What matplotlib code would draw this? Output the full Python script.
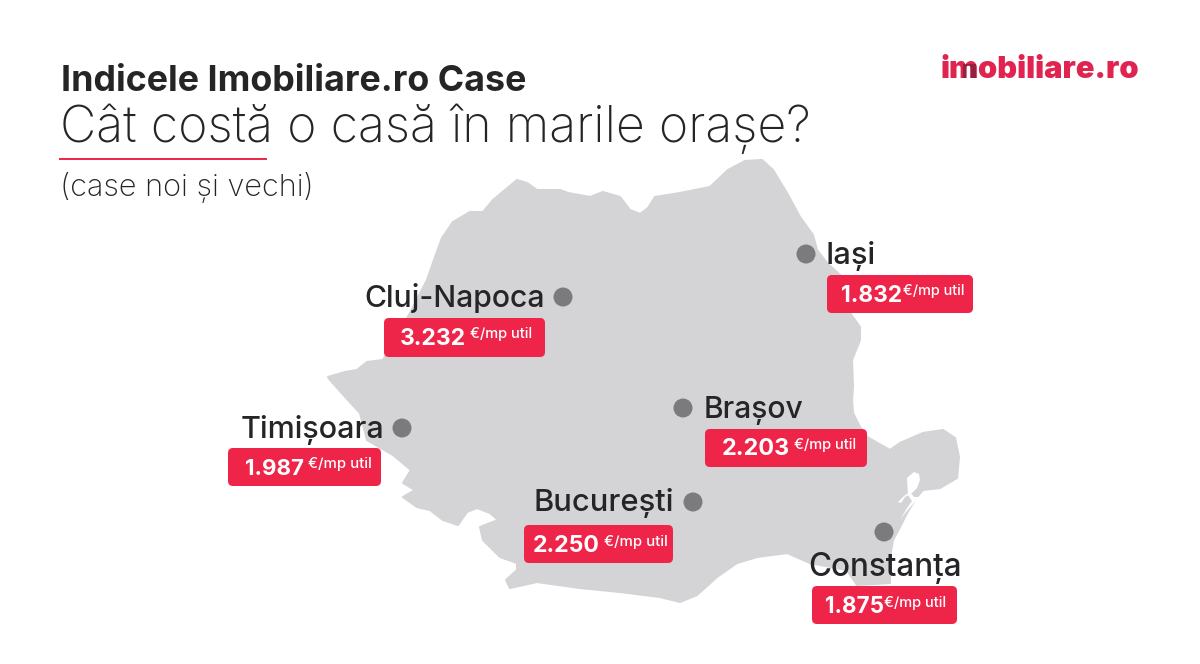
import matplotlib
matplotlib.use("Agg")
import matplotlib.pyplot as plt
from matplotlib.patches import Polygon, FancyBboxPatch, Circle
from matplotlib.textpath import TextPath
from matplotlib.font_manager import FontProperties
from matplotlib.transforms import Bbox

# ---- data ----
cities = ["Cluj-Napoca", "Iași", "Timișoara", "Brașov", "București", "Constanța"]
prices = [3232, 1832, 1987, 2203, 2250, 1875]
unit = "€/mp util"
title = "Indicele Imobiliare.ro Case"
subtitle = "Cât costă o casă în marile orașe?"
note = "(case noi și vechi)"
logo = "imobiliare.ro"

map_x = [328,345,357,367,383,395,410,427,435,442,453,470,483,493,517,527,537,560,568,590,603,620,630,640,
         648,655,680,710,728,745,762,773,787,800,813,817,827,840,850,860,860,852,853,852,853,860,867,890,900,923,
         943,955,959,957,940,923,917,907,900,893,890,890,857,847,810,787,757,737,717,697,680,660,620,580,537,
         510,506,517,517,500,483,480,498,490,477,467,458,443,430,417,403,415,403,411,393,367,360,348,330]
map_y = [377,372,370,362,360,340,313,280,257,238,222,212,212,200,180,183,190,190,193,197,192,197,210,214,
         208,197,193,187,170,161,160,170,193,217,235,250,263,275,313,327,340,360,387,400,413,427,437,450,443,433,
         430,438,457,478,488,490,497,513,527,540,557,583,585,570,563,553,557,563,577,595,602,597,592,588,582,
         588,580,570,563,557,540,527,520,513,508,512,525,520,510,507,497,490,483,470,455,440,413,400,380]
delta_x = [907,914,919,920,917,912,905,901,898,904,910,914,921,914,906,900,907,912,908]
delta_y = [478,472,474,480,488,493,497,503,502,496,492,497,497,503,512,520,508,501,495]

# ---- layout (pixels) ----
W, H = 1200, 664
fig = plt.figure(figsize=(12, 6.64), dpi=100, facecolor="white")
ax = fig.add_axes([0, 0, 1, 1])
ax.set_xlim(0, W); ax.set_ylim(H, 0); ax.axis("off")

FONT = "Inter"
RED = "#ee2449"; GREY = "#d4d3d5"; DOT = "#7b7a7c"; INK = "#252527"

def put(s, x0, x1, base, weight, color, zorder=5):
    """Place text whose ink spans x0..x1 px, on the given baseline."""
    fp = FontProperties(family=FONT, weight=weight)
    ext = TextPath((0, 0), s, size=100, prop=fp).get_extents()
    size_px = 100 * (x1 - x0) / ext.width
    bearing = ext.x0 * size_px / 100
    return ax.text(x0 - bearing * 0.5, base, s, fontproperties=fp, fontsize=size_px * 0.72,
                   color=color, va="baseline", ha="left", zorder=zorder)

ax.add_patch(Polygon(list(zip(map_x, map_y)), closed=True, fc=GREY, ec=GREY, lw=1.5,
                     joinstyle="round", zorder=1))
ax.add_patch(Polygon(list(zip(delta_x, delta_y)), closed=True, fc="white", ec="none", zorder=2))

put(title, 62, 524, 91, "bold", INK)
put(subtitle, 62, 807, 142, "light", INK)
ax.plot([60, 266], [159, 159], color=RED, lw=1.4, zorder=3)
put(note, 62, 309, 196, "light", INK)

dots = [(563,297),(806,254),(402,428),(683,408),(693,502),(884,532)]
name_pos = [(365,542,307),(827,873,264),(241,381,438),(705,802,418),(535,671,511),(809,959,576)]
boxes = [(384,318,545,357),(827,275,973,313),(228,448,381,486),(705,429,867,467),(524,525,673,563),(812,586,957,624)]
val_pos = [(400,464,345),(842,901,302),(246,303,475),(722,788,455),(533,598,552),(826,883,613)]
unit_pos = [(470,531,338),(903,963,295),(308,370,468),(794,855,449),(604,666,546),(884,945,607)]

for i, c in enumerate(cities):
    ax.add_patch(Circle(dots[i], 9.5, fc=DOT, ec="none", zorder=4))
    x0, x1, b = name_pos[i]
    put(c, x0, x1, b, "medium", INK)
    l, t, r, bt = boxes[i]
    ax.add_patch(FancyBboxPatch((l + 5, t + 5), r - l - 10, bt - t - 10,
                                boxstyle="round,pad=5,rounding_size=5",
                                fc=RED, ec="none", zorder=4))
    x0, x1, b = val_pos[i]
    put(f"{prices[i]:,}".replace(",", "."), x0, x1, b, "bold", "white")
    x0, x1, b = unit_pos[i]
    put(unit, x0, x1, b, "medium", "white")

# logo with a darker patch of the m (the reference's small house)
put(logo, 941, 1138, 78, "black", "#e0244f")
dark = put(logo, 941, 1138, 78, "black", "#96203f", zorder=6)
dark.set_clip_on(True)
dark.set_clip_box(Bbox([[963, H - 80], [977, H - 64]]))

fig.savefig("out.png", dpi=100, facecolor="white")
